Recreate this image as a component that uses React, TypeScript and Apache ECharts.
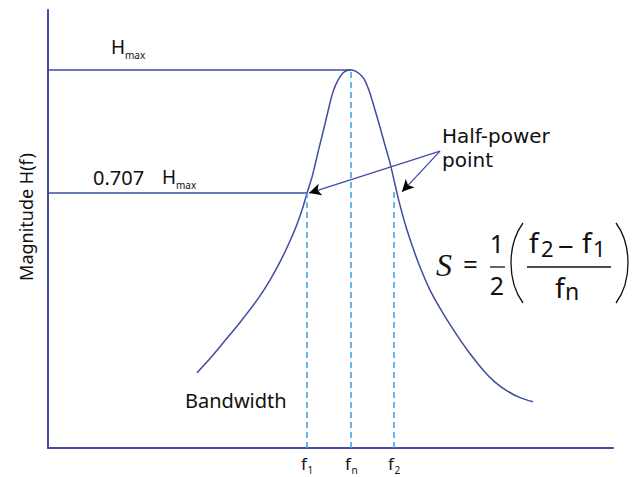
import React, { useEffect, useRef } from "react";
import * as echarts from "echarts";

// Resonance curve (frequency in arbitrary units, magnitude relative to Hmax)
const freq = [149, 162, 175, 192, 209, 222, 232, 242, 249, 255, 259, 264, 267, 271, 275, 280, 285, 290, 295, 299, 303, 307, 312, 316, 319, 322, 327, 332, 337, 342, 346, 349, 354, 359, 365, 372, 382, 393, 405, 420, 435, 447, 459, 472, 485];
const magnitude = [0.279, 0.313, 0.35, 0.399, 0.452, 0.5, 0.543, 0.593, 0.633, 0.674, 0.707, 0.745, 0.774, 0.814, 0.852, 0.902, 0.948, 0.976, 0.993, 0.999, 1.0, 0.998, 0.99, 0.979, 0.964, 0.945, 0.905, 0.864, 0.821, 0.779, 0.738, 0.707, 0.66, 0.619, 0.576, 0.531, 0.476, 0.429, 0.383, 0.331, 0.286, 0.257, 0.236, 0.22, 0.21];

const f1 = 259;
const fn = 303;
const f2 = 346;
const hMax = 1.0;
const halfPower = 0.707;
const f2Top = 0.714;
const xMin = 0;
const xMax = 565;
const yMin = 0.1;
const yMax = 1.143;
// arrow from "Half-power point" label to the two half-power points
const arrowStart = [392, 0.807];
const arrowEnds = [
  [261, 0.707],
  [354, 0.71],
];
const tickValues = [f1, fn, f2];
const tickSubs = ["1", "n", "2"];

const BLUE = "#3f4c9f";
const DASH = "#3b9ede";
const TXT = "#111111";
const FONT = "Noto Sans";

export default function App() {
  const ref = useRef<HTMLDivElement>(null);
  useEffect(() => {
    if (!ref.current) return;
    const chart = echarts.init(ref.current, undefined, { renderer: "svg" });
    const txt = (text: string, x: number, y: number, size: number, extra: any = {}) => ({
      type: "text",
      x,
      y,
      style: {
        text,
        fill: TXT,
        fontFamily: FONT,
        fontSize: size,
        textAlign: "left",
        textVerticalAlign: "middle",
        ...extra,
      },
    });
    const seg = (x1: number, y1: number, x2: number, y2: number, w = 1.3) => ({
      type: "line",
      shape: { x1, y1, x2, y2 },
      style: { stroke: TXT, lineWidth: w },
    });
    const option: any = {
      animation: false,
      grid: { left: 48, top: 10, right: 30, bottom: 29 },
      xAxis: {
        type: "value",
        min: xMin,
        max: xMax,
        axisLine: { show: true, onZero: false, lineStyle: { color: BLUE, width: 2 } },
        axisTick: { show: false },
        splitLine: { show: false },
        axisLabel: { show: false },
      },
      yAxis: {
        type: "value",
        min: yMin,
        max: yMax,
        axisLine: { show: true, onZero: false, lineStyle: { color: BLUE, width: 2 } },
        axisTick: { show: false },
        axisLabel: { show: false },
        splitLine: { show: false },
      },
      series: [
        {
          type: "line",
          data: freq.map((f, i) => [f, magnitude[i]]),
          showSymbol: false,
          smooth: 0.3,
          lineStyle: { color: BLUE, width: 1.5 },
          markLine: {
            silent: true,
            symbol: "none",
            label: { show: false },
            data: [
              [
                { coord: [xMin, hMax], lineStyle: { color: BLUE, width: 1.5, type: "solid" } },
                { coord: [fn, hMax] },
              ],
              [
                { coord: [xMin, halfPower], lineStyle: { color: BLUE, width: 1.5, type: "solid" } },
                { coord: [f1, halfPower] },
              ],
              [
                { coord: [f1, yMin], lineStyle: { color: DASH, width: 1.5, type: [6, 4] } },
                { coord: [f1, halfPower] },
              ],
              [
                { coord: [fn, yMin], lineStyle: { color: DASH, width: 1.5, type: [6, 4] } },
                { coord: [fn, hMax] },
              ],
              [
                { coord: [f2, yMin], lineStyle: { color: DASH, width: 1.5, type: [6, 4] } },
                { coord: [f2, f2Top] },
              ],
            ],
          },
        },
        {
          type: "line",
          data: [],
          markLine: {
            silent: true,
            symbol: "none",
            label: { show: false },
            lineStyle: { color: BLUE, width: 1.3, type: "solid" },
            data: arrowEnds.map((e) => [{ coord: arrowStart }, { coord: e }]),
          },
        },
        {
          type: "line",
          data: [],
          markLine: {
            silent: true,
            symbol: ["none", "arrow"],
            symbolSize: [9, 12],
            label: { show: false },
            lineStyle: { color: "#000000", width: 0, type: "solid" },
            data: arrowEnds.map((e) => [{ coord: arrowStart }, { coord: e }]),
          },
        },
      ],
    };
    chart.setOption(option);

    // tick labels f1, fn, f2 placed at the axis positions of their values
    const tickGraphics: any[] = [];
    tickValues.forEach((v, i) => {
      const p = chart.convertToPixel({ gridIndex: 0 }, [v, yMin]) as number[];
      tickGraphics.push(txt("f", p[0] - 6, p[1] + 15, 17));
      tickGraphics.push(txt(tickSubs[i], p[0] + 0.5, p[1] + 22, 10));
    });

    chart.setOption({
      graphic: [
        txt("H", 111, 47, 19),
        txt("max", 125, 55, 10),
        txt("0.707", 93, 177, 20),
        txt("H", 162, 177, 19),
        txt("max", 176, 185, 10),
        txt("Half-power\npoint", 442, 148, 20, { lineHeight: 24, fontFamily: "DejaVu Sans" }),
        txt("Bandwidth", 185, 400, 20),
        {
          type: "text",
          x: 26,
          y: 217,
          rotation: Math.PI / 2,
          style: {
            text: "Magnitude H(f)",
            fill: TXT,
            fontFamily: FONT,
            fontSize: 18,
            textAlign: "center",
            textVerticalAlign: "middle",
          },
        },
        // formula  S = 1/2 ((f2 - f1) / fn)
        txt("S", 436, 265, 32, { fontFamily: "Liberation Serif", fontStyle: "italic" }),
        txt("=", 463, 264, 26),
        txt("1", 497, 243, 25, { textAlign: "center" }),
        seg(490, 267, 505, 267),
        txt("2", 497, 285, 25, { textAlign: "center" }),
        {
          type: "bezierCurve",
          shape: { x1: 523, y1: 223, cpx1: 507, cpy1: 245, cpx2: 507, cpy2: 281, x2: 523, y2: 303 },
          style: { stroke: TXT, lineWidth: 1.3, fill: "none" },
        },
        txt("f", 529, 242, 28),
        txt("2", 541, 248, 22),
        txt("−", 558, 246, 28),
        txt("f", 582, 242, 28),
        txt("1", 593, 248, 22),
        seg(527, 267, 611, 267),
        txt("f", 555, 287, 28),
        txt("n", 565, 291, 23),
        {
          type: "bezierCurve",
          shape: { x1: 616, y1: 223, cpx1: 632, cpy1: 245, cpx2: 632, cpy2: 281, x2: 616, y2: 303 },
          style: { stroke: TXT, lineWidth: 1.3, fill: "none" },
        },
        ...tickGraphics,
      ],
    });
    return () => chart.dispose();
  }, []);
  return (
    <div
      ref={ref}
      style={{ position: "absolute", left: 0, top: 0, width: 643, height: 477, background: "#ffffff" }}
    />
  );
}
